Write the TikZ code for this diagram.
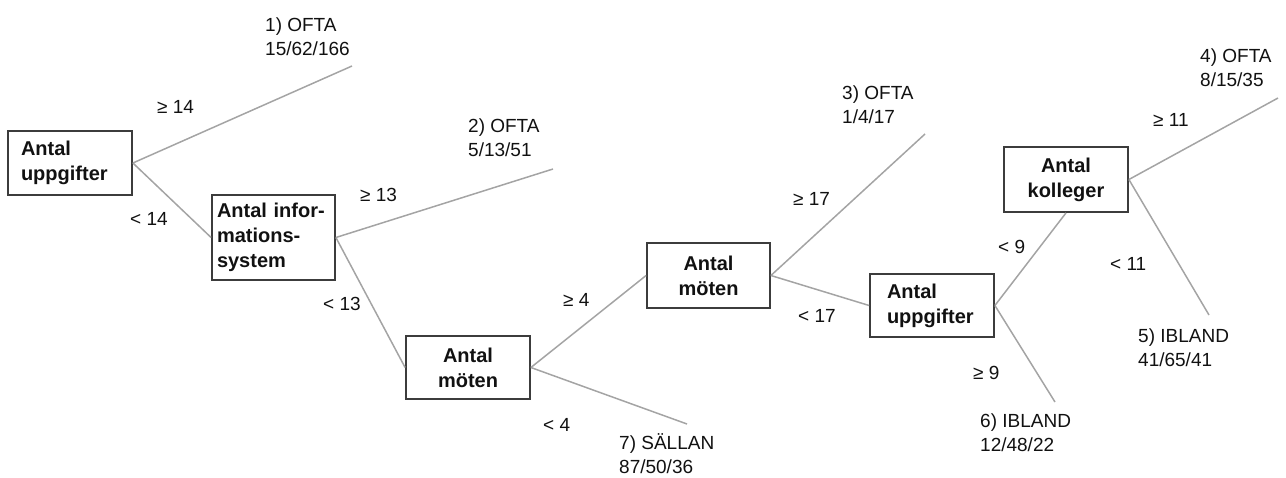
\documentclass[tikz,border=0pt]{standalone}
\usepackage{fontspec}
\setmainfont{Liberation Sans}
\definecolor{boxgray}{HTML}{3C3C3C}
\definecolor{linegray}{HTML}{A4A4A4}
\definecolor{txt}{HTML}{111111}
\begin{document}
\begin{tikzpicture}[x=1pt,y=-1pt,
  box/.style={draw=boxgray, line width=1.8pt, inner ysep=0pt, text=txt,
    font=\fontsize{20}{25}\selectfont\bfseries},
  lab/.style={font=\fontsize{19}{24}\selectfont, inner sep=0pt, anchor=base west, align=left, text=txt},
  conn/.style={draw=linegray, line width=1.5pt}]
\useasboundingbox (0,0) rectangle (1286,477);

% decision boxes
\node[box, minimum height=64pt, inner xsep=13pt, text width=98pt, align=left] (b1) at (70,163) {Antal\\uppgifter};
\node[box, minimum height=85pt, inner xsep=5pt, text width=113pt, align=left] (b2) at (273.5,237.5) {Antal infor-\\mations-\\system};
\node[box, minimum height=63pt, inner xsep=0pt, text width=124pt, align=center] (b3) at (468,367.5) {Antal\\möten};
\node[box, minimum height=65pt, inner xsep=0pt, text width=123pt, align=center] (b4) at (708.5,275.5) {Antal\\möten};
\node[box, minimum height=63pt, inner xsep=17pt, text width=90pt, align=left] (b5) at (932,305.5) {Antal\\uppgifter};
\node[box, minimum height=65pt, inner xsep=0pt, text width=124pt, align=center] (b6) at (1066,179.5) {Antal\\kolleger};

% leaf ends
\coordinate (l1) at (352,66);
\coordinate (l2) at (553,169);
\coordinate (l3) at (925,134);
\coordinate (l4) at (1278,98);
\coordinate (l5) at (1209,315);
\coordinate (l6) at (1055,402);
\coordinate (l7) at (687,424);

% connectors
\draw[conn] (b1.east) -- (l1);
\draw[conn] (b1.east) -- (b2.west);
\draw[conn] (b2.east) -- (l2);
\draw[conn] (b2.east) -- (b3.west);
\draw[conn] (b3.east) -- (b4.west);
\draw[conn] (b3.east) -- (l7);
\draw[conn] (b4.east) -- (l3);
\draw[conn] (b4.east) -- (b5.west);
\draw[conn] (b5.east) -- (b6.south);
\draw[conn] (b5.east) -- (l6);
\draw[conn] (b6.east) -- (l4);
\draw[conn] (b6.east) -- (l5);

% leaf labels (anchor = baseline of last line)
\node[lab] (t1) at (265,55) {1) OFTA\\15/62/166};
\node[lab] (t2) at (468,156) {2) OFTA\\5/13/51};
\node[lab] (t3) at (842,123) {3) OFTA\\1/4/17};
\node[lab] (t4) at (1200,86) {4) OFTA\\8/15/35};
\node[lab] (t5) at (1138,366) {5) IBLAND\\41/65/41};
\node[lab] (t6) at (980,451) {6) IBLAND\\12/48/22};
\node[lab] (t7) at (619,473) {7) SÄLLAN\\87/50/36};

% split labels
\node[lab] (c1) at (157,113) {≥ 14};
\node[lab] (c2) at (130,225) {< 14};
\node[lab] (c3) at (360,201) {≥ 13};
\node[lab] (c4) at (323,310) {< 13};
\node[lab] (c5) at (563,306) {≥ 4};
\node[lab] (c6) at (543,431) {< 4};
\node[lab] (c7) at (793,205) {≥ 17};
\node[lab] (c8) at (798,322) {< 17};
\node[lab] (c9) at (998,253) {< 9};
\node[lab] (c10) at (973,379) {≥ 9};
\node[lab] (c11) at (1153,126) {≥ 11};
\node[lab] (c12) at (1110,270) {< 11};
\end{tikzpicture}
\end{document}
